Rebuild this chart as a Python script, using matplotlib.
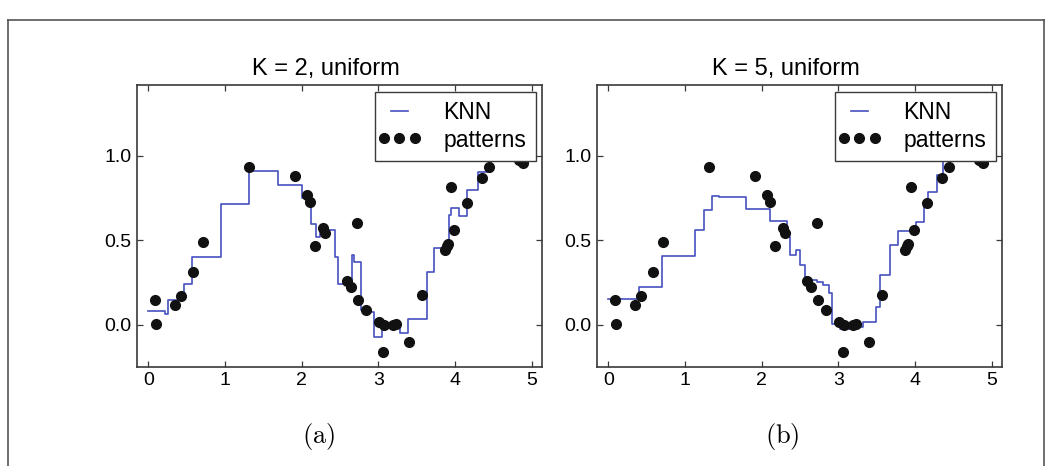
import numpy as np
import matplotlib
matplotlib.use('agg')
import matplotlib.pyplot as plt
from matplotlib.lines import Line2D
from matplotlib.legend_handler import HandlerLine2D

# patterns (same data in both panels)
pat_x = [0.087, 0.096, 0.348, 0.426, 0.587, 0.709, 1.317, 1.913, 2.065, 2.108,
         2.173, 2.273, 2.300, 2.595, 2.639, 2.717, 2.730, 2.834, 3.004, 3.056,
         3.073, 3.195, 3.225, 3.403, 3.564, 3.868, 3.890, 3.910, 3.947, 3.990,
         4.151, 4.346, 4.446, 4.600, 4.720, 4.830, 4.890]
pat_y = [0.149, 0.006, 0.117, 0.172, 0.311, 0.493, 0.937, 0.881, 0.768, 0.729,
         0.465, 0.576, 0.545, 0.257, 0.224, 0.604, 0.149, 0.085, 0.016, -0.164,
         -0.004, 0.000, 0.004, -0.103, 0.174, 0.440, 0.465, 0.480, 0.818, 0.564,
         0.723, 0.871, 0.935, 1.015, 1.020, 0.975, 0.960]

# KNN prediction, K = 2: step start positions and levels
k2_x = [0.0, 0.217, 0.261, 0.468, 0.567, 0.952, 1.311, 1.691, 2.011, 2.119,
        2.190, 2.237, 2.434, 2.470, 2.656, 2.684, 2.776, 2.890, 2.945, 3.050,
        3.285, 3.392, 3.633, 3.720, 3.889, 3.918, 3.950, 4.052, 4.160, 4.299,
        4.475, 5.0]
k2_y = [0.079, 0.062, 0.145, 0.242, 0.402, 0.716, 0.909, 0.825, 0.750, 0.598,
        0.520, 0.560, 0.402, 0.239, 0.414, 0.374, 0.090, 0.075, -0.071, 0.003,
        -0.046, 0.036, 0.310, 0.452, 0.472, 0.648, 0.692, 0.646, 0.798, 0.902,
        0.990, 0.990]

# KNN prediction, K = 5
k5_x = [0.0, 0.398, 0.707, 1.131, 1.247, 1.348, 1.441, 1.795, 2.107, 2.330,
        2.374, 2.445, 2.502, 2.567, 2.720, 2.800, 2.880, 2.912, 3.020, 3.238,
        3.325, 3.490, 3.545, 3.672, 3.778, 4.010, 4.118, 4.172, 4.290, 4.360,
        5.0]
k5_y = [0.152, 0.221, 0.407, 0.560, 0.679, 0.763, 0.757, 0.684, 0.617, 0.518,
        0.414, 0.441, 0.357, 0.265, 0.254, 0.238, 0.190, 0.006, -0.024, -0.016,
        0.016, 0.105, 0.293, 0.475, 0.554, 0.610, 0.719, 0.788, 0.888, 1.000,
        1.000]

titles = ["K = 2, uniform", "K = 5, uniform"]
captions = ["(a)", "(b)"]

plt.rcParams['font.family'] = ['Liberation Sans', 'DejaVu Sans']
plt.rcParams['mathtext.fontset'] = 'cm'

W, H = 1057, 466
fig = plt.figure(figsize=(W / 100, H / 100), dpi=100)

line_col = '#4652c0'
spine_col = '#3a3a3a'

axes_left = [136.7, 596.7]
ax_w, ax_top, ax_bot = 405, 85, 367

for i, (kx, ky) in enumerate([(k2_x, k2_y), (k5_x, k5_y)]):
    ax = fig.add_axes([axes_left[i] / W, 1 - ax_bot / H, ax_w / W, (ax_bot - ax_top) / H])
    ax.plot(kx, ky, drawstyle='steps-post', color=line_col, lw=1.2, label='KNN', zorder=2)
    pts, = ax.plot(pat_x, pat_y, 'o', color='#111111', ms=7, label='patterns', zorder=3)
    ax.set_xlim(-0.15, 5.13)
    ax.set_ylim(-0.25, 1.42)
    ax.set_xticks([0, 1, 2, 3, 4, 5])
    ax.set_yticks([0.0, 0.5, 1.0])
    ax.set_yticklabels(['0.0', '0.5', '1.0'])
    ax.tick_params(direction='in', top=True, right=True, length=4, width=0.9,
                   color=spine_col, labelsize=14, pad=3.5)
    for s in ax.spines.values():
        s.set_color(spine_col)
        s.set_linewidth(1.2)
    ax.set_title(titles[i], fontsize=17, pad=7, x=0.468)
    leg = ax.legend(loc='upper right', bbox_to_anchor=(0.985, 0.976), numpoints=3,
                    fontsize=16.5, fancybox=False, framealpha=1, edgecolor=spine_col,
                    borderpad=0.4, labelspacing=0.2, handlelength=1.35,
                    handletextpad=1.25, borderaxespad=0,
                    handler_map={pts: HandlerLine2D(marker_pad=0, numpoints=3)})
    leg.get_frame().set_linewidth(1.0)
    fig.text((319 if i == 0 else 782) / W, 1 - 437 / H, r'$\mathrm{' + captions[i] + '}$',
             ha='center', va='center', fontsize=19)

# page frame around the figure
fx0, fx1, fy0 = 8 / W, 1044 / W, 1 - 20 / H
for xs, ys in [([fx0, fx1], [fy0, fy0]), ([fx0, fx0], [fy0, 0]), ([fx1, fx1], [fy0, 0])]:
    fig.add_artist(Line2D(xs, ys, color='#555555', lw=1.2, transform=fig.transFigure))

plt.savefig('out.png', dpi=100)
